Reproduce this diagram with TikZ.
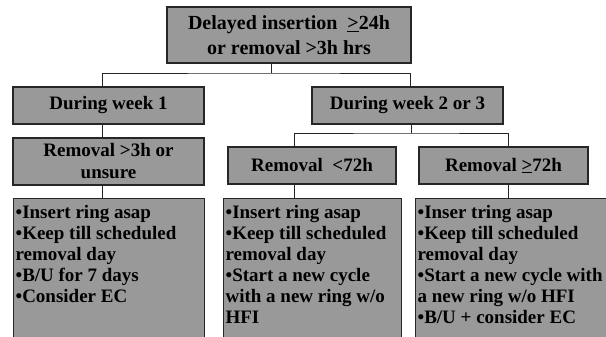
\documentclass[tikz,border=0pt]{standalone}
\usepackage{fontspec}
\setmainfont{Liberation Serif}
\usetikzlibrary{positioning,calc}
\definecolor{boxGray}{HTML}{999999}
\definecolor{boxEdge}{HTML}{262626}
\newcommand{\careList}[2]{\parbox[t][140pt][t]{#1}{\raggedright #2}}
\tikzset{
  stepbox/.style={
    draw=boxEdge,
    fill=boxGray,
    line width=1.2pt,
    inner sep=2pt,
    align=center,
    font=\bfseries\fontsize{19}{22}\selectfont
  },
  headbox/.style={
    stepbox,
    font=\bfseries\fontsize{20}{25}\selectfont
  },
  listbox/.style={
    draw=boxEdge,
    fill=boxGray,
    line width=1.2pt,
    anchor=north west,
    inner xsep=2pt,
    inner ysep=7pt,
    font=\bfseries\fontsize{19}{21}\selectfont
  },
  link/.style={
    draw=boxEdge,
    line width=0.9pt
  }
}

\begin{document}
\begin{tikzpicture}[x=1pt,y=-1pt]
\useasboundingbox (0,0) rectangle (606,337);
\clip (0,0) rectangle (606,337);

\node[headbox, minimum width=244pt, minimum height=56pt] (top) at (289,35) {Delayed insertion\ \ \underline{>}24h\\or removal >3h hrs};

\node[stepbox, minimum width=191pt, minimum height=37pt] (wk1) at (108.5,105.5) {During week 1};
\node[stepbox, minimum width=191pt, minimum height=37pt] (wk23) at (407.5,105.5) {During week 2 or 3};

\node[stepbox, minimum width=191pt, minimum height=47pt] (rem1) at (108.5,161.5) {Removal >3h or\\unsure};
\node[stepbox, minimum width=168pt, minimum height=37pt] (rem2) at (312,165.5) {Removal\ \ <72h};
\node[stepbox, minimum width=169pt, minimum height=37pt] (rem3) at (503.5,165.5) {Removal \underline{>}72h};

\node[listbox] (act1) at (13,198) {\careList{187pt}{•Insert ring asap\\•Keep till scheduled\\removal day\\•B/U for 7 days\\•Consider EC}};
\node[listbox] (act2) at (223,198) {\careList{174pt}{•Insert ring asap\\•Keep till scheduled\\removal day\\•Start a new cycle\\with a new ring w/o\\HFI}};
\node[listbox] (act3) at (415,198) {\careList{205pt}{•Inser tring asap\\•Keep till scheduled\\removal day\\•Start a new cycle with\\a new ring w/o HFI\\•B/U + consider EC}};

% top split
\coordinate (hub) at (271,73);
\draw[link] (top.south -| hub) -- (hub);
\draw[link] ([xshift=-6.5pt]wk1.north) |- (hub) -| ([xshift=2.5pt]wk23.north);

% week 1 branch
\draw[link] ([xshift=-6.5pt]wk1.south) -- ([xshift=-6.5pt]rem1.north);
\draw[link] ([xshift=-6.5pt]rem1.south) -- ([xshift=-6.5pt]rem1.south |- act1.north);

% week 2 or 3 branch
\coordinate (fork) at (411,133);
\draw[link] (wk23.south -| fork) -- (fork);
\draw[link] ([xshift=-18pt]rem2.north) |- (fork) -| ([xshift=4.5pt]rem3.north);
\draw[link] ([xshift=-18pt]rem2.south) -- ([xshift=-18pt]rem2.south |- act2.north);
\draw[link] ([xshift=4.5pt]rem3.south) -- ([xshift=4.5pt]rem3.south |- act3.north);

\end{tikzpicture}
\end{document}
